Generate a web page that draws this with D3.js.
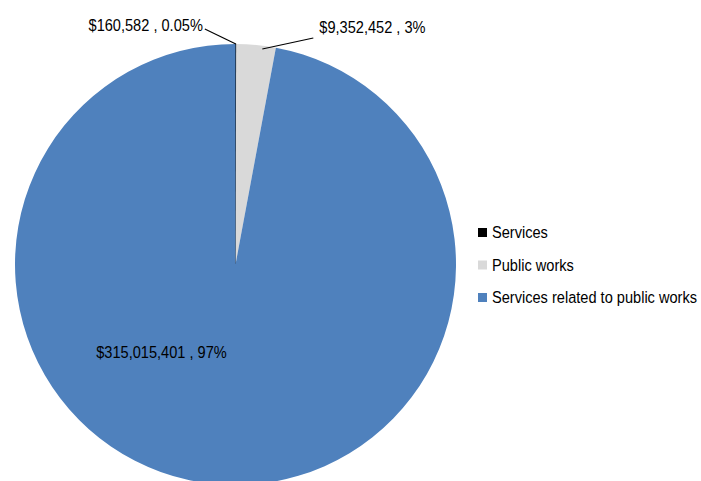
<!DOCTYPE html>
<html>
<head>
<meta charset="utf-8">
<script src="https://cdn.jsdelivr.net/npm/d3@7"></script>
<style>
  html, body { margin: 0; padding: 0; background: #fff; }
  svg { display: block; }
  text { font-family: "Liberation Sans", Arial, sans-serif; fill: #000; }
</style>
</head>
<body>
<svg id="chart" width="701" height="481"></svg>
<script>
// Contract value by category
const categories = ["Services", "Public works", "Services related to public works"];
const amounts = [160582, 9352452, 315015401];
const percentLabels = ["0.05%", "3%", "97%"];
const colors = ["#000000", "#D9D9D9", "#4F81BD"];

const W = 701, H = 481;
const cx = 235.5, cy = 264.5, R = 220.5;
const fontSize = 14.6;
const stretchY = 1.1; // slightly tall lettering

const svg = d3.select("#chart");

const data = categories.map((c, i) => ({ category: c, amount: amounts[i], pct: percentLabels[i], color: colors[i] }));

const pie = d3.pie().sort(null).value(d => d.amount);
const arcs = pie(data);
const arc = d3.arc().innerRadius(0).outerRadius(R);

const g = svg.append("g").attr("transform", `translate(${cx},${cy})`);

g.selectAll("path.slice")
  .data(arcs)
  .join("path")
  .attr("class", "slice")
  .attr("d", arc)
  .attr("fill", d => d.data.color)
  .attr("stroke", d => d.index === 0 ? "#000" : "none")
  .attr("stroke-width", d => d.index === 0 ? 1 : 0);

const fmt = d3.format("$,");
const labelText = d => `${fmt(d.data.amount)} , ${d.data.pct}`;

// text placed at (x, y) baseline with a mild vertical stretch
function addText(parent, x, y, str, anchor) {
  return parent.append("text")
    .attr("transform", `translate(${x},${y}) scale(1,${stretchY})`)
    .attr("text-anchor", anchor || "start")
    .style("font-size", fontSize + "px")
    .text(str);
}

// point on the rim at a slice's middle angle
function rimPoint(d, k) {
  const a = (d.startAngle + d.endAngle) / 2;
  return [Math.sin(a) * R * k, -Math.cos(a) * R * k];
}

// Services: label up-left with a leader line
{
  const d = arcs[0];
  const p = rimPoint(d, 1);
  const start = [p[0] - 31, p[1] - 15];
  g.append("line")
    .attr("x1", start[0]).attr("y1", start[1])
    .attr("x2", p[0]).attr("y2", p[1])
    .attr("stroke", "#000").attr("stroke-width", 1.2);
  addText(g, start[0] - 2, start[1] + 2, labelText(d), "end");
}

// Public works: label up-right with a leader line
{
  const d = arcs[1];
  const a = (d.startAngle + d.endAngle) / 2 + 0.03;
  const p = [Math.sin(a) * R * 0.985, -Math.cos(a) * R * 0.985];
  const end = [p[0] + 51, p[1] - 11];
  g.append("line")
    .attr("x1", p[0]).attr("y1", p[1])
    .attr("x2", end[0]).attr("y2", end[1])
    .attr("stroke", "#000").attr("stroke-width", 1.2);
  addText(g, end[0] + 6, end[1] - 5, labelText(d));
}

// Services related to public works: label inside the slice
{
  const d = arcs[2];
  addText(g, -74, 93, labelText(d), "middle");
}

// Legend
const legend = svg.append("g").attr("transform", "translate(478,228)");
const rowH = 32.5;
const item = legend.selectAll("g.item")
  .data(data)
  .join("g")
  .attr("class", "item")
  .attr("transform", (d, i) => `translate(0,${i * rowH})`);
item.append("rect")
  .attr("x", 0).attr("y", 0)
  .attr("width", 9).attr("height", 9)
  .attr("fill", d => d.color);
item.each(function(d) {
  addText(d3.select(this), 14, 10, d.category);
});
</script>
</body>
</html>
